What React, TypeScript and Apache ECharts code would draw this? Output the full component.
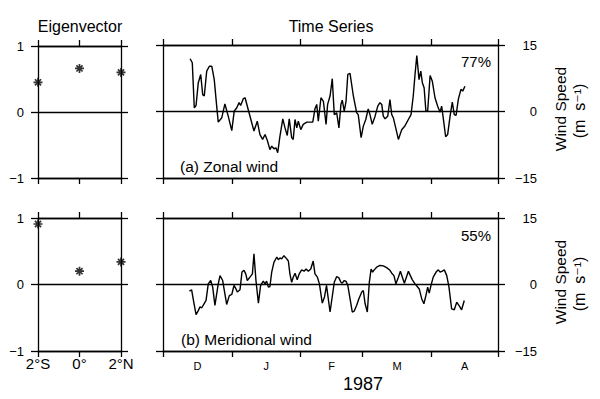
import React, { useEffect, useRef } from "react";
import * as echarts from "echarts";

// Eigenvector panels
const eigPositions = [-2, 0, 2];
const eigPosLabels = ["2°S", "0°", "2°N"];
const eigZonal = [0.45, 0.66, 0.6];
const eigMerid = [0.91, 0.2, 0.34];

// Time axis: days since 1 Dec 1986
const monthStarts = [0, 31, 62, 90, 121, 151];
const monthMids = [15.5, 46.5, 76, 105.5, 136];
const monthLabels = ["D", "J", "F", "M", "A"];

// (a) Zonal wind time series
const zonalDays = [
  12.2, 13.2, 14.1, 14.9, 15.9, 17.0, 17.9, 18.6, 19.7, 20.9, 22.0, 23.1, 24.2, 24.9, 26.5, 27.9, 29.4,
  31.0, 32.1, 33.2, 34.3, 35.0, 36.2, 37.0, 38.4, 40.0, 41.0, 42.5, 43.7, 44.9, 46.0, 47.0, 48.2, 49.0,
  50.0, 50.9, 51.7, 52.7, 54.0, 55.0, 56.0, 56.9, 58.0, 58.7, 59.5, 60.3, 61.0, 62.1, 63.2, 64.8, 67.5,
  68.5, 69.3, 70.0, 71.2, 72.3, 73.5, 74.2, 75.3, 76.3, 77.2, 78.3, 79.3, 80.2, 80.8, 81.7, 82.5, 83.3,
  84.3, 85.8, 87.3, 88.0, 89.3, 90.3, 91.4, 92.5, 93.3, 94.3, 95.6, 96.8, 97.8, 98.6, 99.3, 100.1, 101.3,
  102.3, 103.1, 103.8, 104.9, 106.1, 107.6, 109.1, 110.6, 111.8, 112.8, 113.6, 114.4, 115.4, 116.2, 116.9,
  117.7, 118.5, 119.3, 120.4, 121.4, 122.6, 123.8, 124.9, 125.6, 126.3, 127.4, 128.3, 129.4, 130.4, 131.3,
  132.1, 133.1, 134.3, 135.1, 136.1,
];
const zonalValues = [
  11.9, 11.0, 0.8, 1.35, 6.5, 8.35, 3.8, 3.5, 9.1, 10.2, 10.2, 7.2, 1.2, -2.4, -1.4, 1.7, -1.05,
  -4.3, 0.1, 0.8, 2.0, 1.35, 2.9, 3.1, 0.45, -2.55, -4.4, -2.2, -5.2, -6.3, -5.2, -6.5, -8.6, -7.8,
  -8.4, -8.2, -9.3, -5.6, -1.65, -3.7, -5.4, -1.65, -5.9, -6.3, -1.8, -3.7, -2.2, -4.1, -2.9, -2.4, -2.4,
  0.6, 1.6, -2.2, 3.1, 2.3, -2.9, 1.6, 3.5, 7.4, -0.7, -0.3, -3.7, 1.6, 2.55, 0.1, 2.3, 8.35,
  8.6, 3.5, -0.3, -0.7, -5.9, -3.3, -1.8, 0.6, -0.7, -2.9, -1.05, 1.2, 2.0, 1.6, -1.05, -1.65, -1.05,
  2.7, -0.7, -1.4, -3.7, -6.3, -4.1, -3.2, -1.8, -0.7, 3.5, 8.35, 12.6, 7.2, 9.1, 6.5,
  5.35, 0.1, 0.1, 8.1, 6.8, 3.1, 1.2, -0.15, 1.2, -1.4, -5.7, -5.2, -1.05, 2.1, -0.7,
  -0.9, 2.7, 5.0, 4.6, 5.7,
];

// (b) Meridional wind time series
const meridDays = [
  11.9, 12.9, 14.0, 14.9, 15.9, 16.7, 17.4, 18.5, 19.4, 20.4, 21.5, 22.4, 23.4, 24.9, 25.7, 26.9, 27.9,
  28.7, 29.9, 31.0, 32.0, 32.9, 33.5, 34.7, 35.6, 36.5, 37.3, 38.0, 39.2, 40.3, 41.0, 41.9, 43.0, 44.0,
  45.2, 46.0, 46.7, 47.5, 48.2, 49.0, 50.0, 51.3, 52.0, 52.7, 53.5, 54.5, 55.4, 56.5, 57.2, 58.0, 58.7,
  59.5, 60.5, 61.4, 62.5, 63.6, 64.5, 65.5, 66.6, 67.7, 68.5, 69.6, 70.5, 71.8, 72.8, 73.7, 75.3, 77.2,
  78.3, 79.3, 80.2, 80.8, 81.7, 82.5, 83.3, 84.3, 85.3, 86.2, 87.3, 88.3, 89.6, 90.3, 91.1, 92.1, 93.0,
  93.8, 94.5, 95.2, 96.3, 97.8, 99.3, 100.8, 102.3, 103.1, 104.1, 105.0, 106.1, 107.0, 107.9, 108.8,
  109.7, 110.6, 111.5, 112.4, 113.6, 114.6, 115.5, 116.6, 117.6, 118.5, 119.3, 120.0, 120.8, 121.8,
  123.1, 124.1, 124.9, 125.9, 126.8, 127.9, 128.9, 130.1, 131.3, 132.4, 133.4, 134.6, 135.8,
];
const meridValues = [
  -1.5, -1.2, -4.35, -6.8, -5.9, -5.0, -5.3, -4.35, -3.6, 0.15, 0.9, -0.6, -4.7, 0.15, 2.0, 0.9, -2.1,
  -4.5, -2.5, -2.25, -0.2, -1.0, -1.7, -1.2, 2.8, 3.2, 2.4, 0.9, 1.65, 2.4, 6.9, 0.9, -4.2, -0.2,
  0.75, 0.15, 0.75, -0.6, -0.45, 2.8, 5.0, 6.2, 5.6, 6.0, 5.8, 6.5, 6.0, 5.3, 2.4, 0.5, 1.65,
  2.55, 1.05, 2.4, 3.3, 3.0, 3.5, 3.0, 3.5, 5.3, 2.4, 1.65, 0.15, -4.2, -2.8, -0.2, -6.2, 0.5,
  1.8, 1.5, 0.5, 0.3, 0.9, 0.7, -0.2, -3.2, -6.2, -6.0, -4.7, -3.2, -1.7, -1.35, -4.35, -6.2, 0.5,
  3.5, 2.8, 3.3, 3.9, 4.3, 4.2, 3.8, 3.2, 2.55, 2.0, 0.15, 1.65, 3.0, 1.65, 0.3,
  1.65, 3.0, 2.0, 1.05, 0.15, -0.45, -1.0, -3.2, -4.35, -2.5, -0.6, -1.95, -0.2, 1.65,
  2.8, 3.3, 2.8, 3.0, 3.3, 2.0, -0.6, -5.5, -5.7, -4.0, -4.7, -5.7, -3.6,
];

const FONT = "'Liberation Sans', Arial, Helvetica, sans-serif";
const BLACK = "#000";

const minus = (v: number) => (v < 0 ? "\u2212" + Math.abs(v) : String(v));

export default function App() {
  const ref = useRef<HTMLDivElement>(null);

  useEffect(() => {
    if (!ref.current) return;
    const chart = echarts.init(ref.current, null, { renderer: "svg" });

    const lineStyle = { color: BLACK, width: 1.3 };
    const grids = [
      { left: 38, top: 46, width: 83, height: 132 },
      { left: 163, top: 45, width: 335, height: 133 },
      { left: 38, top: 218, width: 83, height: 133 },
      { left: 163, top: 218, width: 335, height: 133 },
    ];

    const xAxes: any[] = [];
    const yAxes: any[] = [];
    grids.forEach((_, gi) => {
      const isEig = gi % 2 === 0;
      const isBottomRow = gi >= 2;
      ["bottom", "top"].forEach((pos) => {
        const showLabel = pos === "bottom" && isBottomRow;
        if (isEig) {
          xAxes.push({
            type: "value",
            gridIndex: gi,
            position: pos,
            min: -2,
            max: 2,
            interval: 2,
            axisLine: { show: true, onZero: false, lineStyle },
            axisTick: { show: true, length: 6, lineStyle },
            splitLine: { show: false },
            axisLabel: {
              show: showLabel,
              margin: 5,
              fontSize: 15,
              fontFamily: FONT,
              color: BLACK,
              formatter: (v: number) => eigPosLabels[eigPositions.indexOf(v)] ?? "",
            },
          });
        } else {
          xAxes.push({
            type: "value",
            gridIndex: gi,
            position: pos,
            min: 0,
            max: 151,
            axisLine: { show: true, onZero: false, lineStyle },
            axisTick: { show: true, length: 6, lineStyle, customValues: monthStarts },
            splitLine: { show: false },
            axisLabel: {
              show: showLabel,
              customValues: monthMids,
              margin: 9,
              fontSize: 11,
              fontFamily: FONT,
              color: BLACK,
              formatter: (v: number) => monthLabels[monthMids.indexOf(v)] ?? "",
            },
          });
        }
      });
      ["left", "right"].forEach((pos) => {
        const showLabel = isEig ? pos === "left" : pos === "right";
        const lim = isEig ? 1 : 15;
        yAxes.push({
          type: "value",
          gridIndex: gi,
          position: pos,
          min: -lim,
          max: lim,
          interval: lim,
          axisLine: { show: true, onZero: false, lineStyle },
          axisTick: { show: true, length: 7, lineStyle },
          splitLine: { show: pos === "left", lineStyle: { color: BLACK, width: 1.3 } },
          axisLabel: {
            show: showLabel,
            margin: isEig ? 14 : 39,
            align: "right",
            fontSize: 13,
            fontFamily: FONT,
            color: BLACK,
            formatter: minus,
          },
        });
      });
    });

    const starSymbol =
      "path://M5,0L5,10M0,5L10,5M1.6,1.6L8.4,8.4M1.6,8.4L8.4,1.6";
    const scatterCommon = {
      type: "scatter",
      symbol: starSymbol,
      symbolSize: 9,
      clip: false,
      itemStyle: { color: BLACK, borderColor: BLACK, borderWidth: 1.7 },
    };
    const lineCommon = {
      type: "line",
      showSymbol: false,
      symbol: "none",
      clip: false,
      lineStyle: { color: BLACK, width: 1.4 },
    };

    const textStyle = (extra: any) => ({
      fill: BLACK,
      fontFamily: FONT,
      ...extra,
    });

    const windLabel = (cy: number) => [
      {
        type: "text",
        x: 560,
        y: cy - 2,
        rotation: Math.PI / 2,
        style: textStyle({ text: "Wind Speed", fontSize: 15.5, align: "center", verticalAlign: "middle" }),
      },
      {
        type: "text",
        x: 579,
        y: cy,
        rotation: Math.PI / 2,
        style: textStyle({
          text: "(m  s\u207B\u00B9)",
          fontSize: 16,
          fontFamily: "'Liberation Sans', 'DejaVu Sans', sans-serif",
          align: "center",
          verticalAlign: "middle",
        }),
      },
    ];

    chart.setOption({
      animation: false,
      backgroundColor: "#fff",
      grid: grids,
      xAxis: xAxes,
      yAxis: yAxes,
      series: [
        {
          ...scatterCommon,
          xAxisIndex: 0,
          yAxisIndex: 0,
          data: eigPositions.map((p, i) => [p, eigZonal[i]]),
        },
        {
          ...lineCommon,
          xAxisIndex: 2,
          yAxisIndex: 2,
          data: zonalDays.map((d, i) => [d, zonalValues[i]]),
        },
        {
          ...scatterCommon,
          xAxisIndex: 4,
          yAxisIndex: 4,
          data: eigPositions.map((p, i) => [p, eigMerid[i]]),
        },
        {
          ...lineCommon,
          xAxisIndex: 6,
          yAxisIndex: 6,
          data: meridDays.map((d, i) => [d, meridValues[i]]),
        },
      ],
      graphic: [
        { type: "text", x: 80, y: 26, style: textStyle({ text: "Eigenvector", fontSize: 16, align: "center", verticalAlign: "middle" }) },
        { type: "text", x: 331, y: 26, style: textStyle({ text: "Time Series", fontSize: 16, align: "center", verticalAlign: "middle" }) },
        { type: "text", x: 180, y: 166, style: textStyle({ text: "(a) Zonal wind", fontSize: 15.5, align: "left", verticalAlign: "middle" }) },
        { type: "text", x: 181, y: 339, style: textStyle({ text: "(b) Meridional wind", fontSize: 15.5, align: "left", verticalAlign: "middle" }) },
        { type: "text", x: 491, y: 61, style: textStyle({ text: "77%", fontSize: 15, align: "right", verticalAlign: "middle" }) },
        { type: "text", x: 491, y: 235, style: textStyle({ text: "55%", fontSize: 15, align: "right", verticalAlign: "middle" }) },
        { type: "text", x: 363, y: 384, style: textStyle({ text: "1987", fontSize: 18, align: "center", verticalAlign: "middle" }) },
        ...windLabel(111),
        ...windLabel(284),
      ],
    });

    return () => chart.dispose();
  }, []);

  return (
    <div
      ref={ref}
      style={{ position: "absolute", left: 0, top: 0, width: 600, height: 399, background: "#fff" }}
    />
  );
}
